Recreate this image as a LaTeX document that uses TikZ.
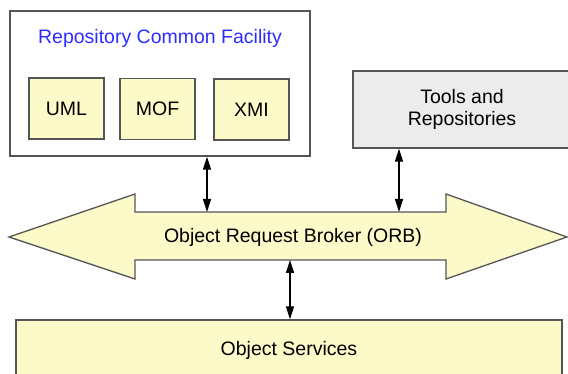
\documentclass[tikz,border=0pt]{standalone}
\usepackage{fontspec}
\setmainfont{Liberation Sans}
\usetikzlibrary{arrows.meta}
\definecolor{boxyellow}{RGB}{252,250,200}
\definecolor{boxgray}{RGB}{236,236,236}
\definecolor{edgegray}{RGB}{85,85,85}
\definecolor{titleblue}{RGB}{45,45,255}
\begin{document}
\begin{tikzpicture}[x=1pt,y=-1pt,
  font=\fontsize{19.5}{22}\selectfont,
  frame/.style={draw=edgegray, line width=1.3pt, inner sep=0pt},
  ybox/.style={frame, fill=boxyellow, minimum width=75pt, minimum height=61pt},
  link/.style={line width=1.2pt, {Triangle[length=13pt,width=8pt]}-{Triangle[length=13pt,width=8pt]}}]
\useasboundingbox (0,0) rectangle (568,374);
\clip (0,0) rectangle (568,374);
% Repository Common Facility
\node[frame, fill=white, minimum width=300pt, minimum height=145pt] (rcf) at (160,83.5) {};
\node[text=titleblue] (rcft) at (160,38) {Repository Common Facility};
\node[ybox] (uml) at (66.5,108.5) {UML};
\node[ybox] (mof) at (157.5,109) {MOF};
\node[ybox] (xmi) at (251.5,109.5) {XMI};
% Tools and Repositories
\node[frame, fill=boxgray, minimum width=218pt, minimum height=77pt, align=center] (tools) at (462,109.5) {Tools and\\Repositories};
% ORB
\path[frame, fill=boxyellow, line join=miter]
  (9,237) -- (135,194) -- (135,212) -- (446,212) -- (446,194) -- (567,237)
  -- (446,279) -- (446,260) -- (135,260) -- (135,279) -- cycle;
\node (orb) at (293,237) {Object Request Broker (ORB)};
\coordinate (orbA) at (207,212);
\coordinate (orbB) at (399,212);
\coordinate (orbC) at (290,260);
% Object Services
\node[frame, fill=boxyellow, minimum width=546pt, minimum height=60pt] (os) at (289,350) {};
\node (ost) at (289,350) {Object Services};
% connectors
\draw[link] (rcf.south -| orbA) -- (orbA);
\draw[link] (tools.south -| orbB) -- (orbB);
\draw[link] (orbC) -- (os.north -| orbC);
\end{tikzpicture}
\end{document}
